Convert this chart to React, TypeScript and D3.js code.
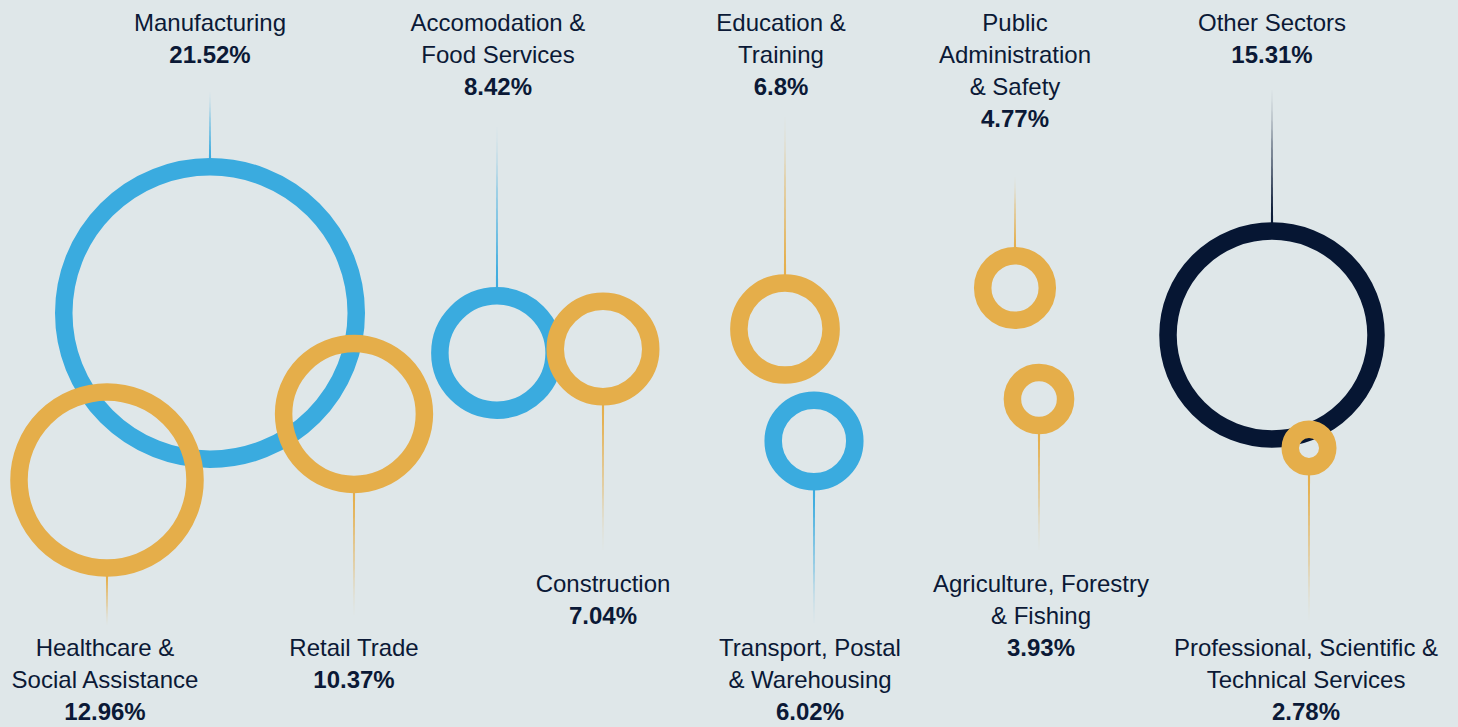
import React, { useEffect, useRef } from "react";
import * as d3 from "d3";

// share of employment by sector
const sectors = [
  "Manufacturing",
  "Healthcare & Social Assistance",
  "Retail Trade",
  "Accomodation & Food Services",
  "Construction",
  "Education & Training",
  "Transport, Postal & Warehousing",
  "Public Administration & Safety",
  "Agriculture, Forestry & Fishing",
  "Other Sectors",
  "Professional, Scientific & Technical Services",
];
const shares = [21.52, 12.96, 10.37, 8.42, 7.04, 6.8, 6.02, 4.77, 3.93, 15.31, 2.78];
const labelLines = [
  ["Manufacturing"],
  ["Healthcare &", "Social Assistance"],
  ["Retail Trade"],
  ["Accomodation &", "Food Services"],
  ["Construction"],
  ["Education &", "Training"],
  ["Transport, Postal", "& Warehousing"],
  ["Public", "Administration", "& Safety"],
  ["Agriculture, Forestry", "& Fishing"],
  ["Other Sectors"],
  ["Professional, Scientific &", "Technical Services"],
];
const groups = ["blue", "gold", "gold", "blue", "gold", "gold", "blue", "gold", "gold", "navy", "gold"];

// hand placed bubble layout (centre, label side, first baseline, leader tip)
const layout = [
  { cx: 210, cy: 313, side: "top", labelY: 31, tipY: 92, dx: 0 },
  { cx: 107, cy: 480, side: "bottom", labelY: 656, tipY: 625, dx: -2 },
  { cx: 354, cy: 414, side: "bottom", labelY: 656, tipY: 615, dx: 0 },
  { cx: 497, cy: 353, side: "top", labelY: 31, tipY: 127, dx: 1 },
  { cx: 603, cy: 349, side: "bottom", labelY: 592, tipY: 550, dx: 0 },
  { cx: 785, cy: 329, side: "top", labelY: 31, tipY: 117, dx: -4 },
  { cx: 814, cy: 441, side: "bottom", labelY: 656, tipY: 623, dx: -4 },
  { cx: 1015, cy: 288, side: "top", labelY: 31, tipY: 177, dx: 0 },
  { cx: 1039, cy: 399, side: "bottom", labelY: 592, tipY: 550, dx: 2 },
  { cx: 1272, cy: 335, side: "top", labelY: 31, tipY: 90, dx: 0 },
  { cx: 1309, cy: 448, side: "bottom", labelY: 656, tipY: 620, dx: -3 },
];

const W = 1458;
const H = 727;
const RING = 17.5;
const LINE_H = 32;
const textColor = "#0b1936";

export default function App() {
  const ref = useRef<SVGSVGElement>(null);

  useEffect(() => {
    document.body.style.margin = "0";
    const svg = d3.select(ref.current);
    svg.selectAll("*").remove();

    const color = d3.scaleOrdinal<string, string>()
      .domain(["blue", "gold", "navy"])
      .range(["#3aabdf", "#e5ae4a", "#061633"]);

    // outer radius grows linearly with the share
    const r = d3.scaleLinear().domain([0, 21.52]).range([8.6, 155]);

    const data = sectors.map((name, i) => ({
      name,
      value: shares[i],
      lines: labelLines[i],
      group: groups[i],
      ...layout[i],
    }));

    svg.append("rect").attr("width", W).attr("height", H).attr("fill", "#dfe7e9");

    const defs = svg.append("defs");

    // leader lines: tapered, fading towards the label
    const leaders = svg.append("g");
    data.forEach((d, i) => {
      const base = d.side === "top" ? d.cy - r(d.value) + 2 : d.cy + r(d.value) - 2;
      const grad = defs.append("linearGradient")
        .attr("id", "lg" + i)
        .attr("gradientUnits", "userSpaceOnUse")
        .attr("x1", 0).attr("x2", 0)
        .attr("y1", d.tipY).attr("y2", base);
      grad.append("stop").attr("offset", "0").attr("stop-color", color(d.group)).attr("stop-opacity", 0.05);
      grad.append("stop").attr("offset", "0.4").attr("stop-color", color(d.group)).attr("stop-opacity", 0.7);
      grad.append("stop").attr("offset", "1").attr("stop-color", color(d.group)).attr("stop-opacity", 1);

      const pts: [number, number][] = [
        [d.cx - 0.2, d.tipY],
        [d.cx + 0.2, d.tipY],
        [d.cx + 1.1, base],
        [d.cx - 1.1, base],
      ];
      leaders.append("path")
        .attr("d", d3.line()(pts) + "Z")
        .attr("fill", `url(#lg${i})`);
    });

    svg.append("g")
      .selectAll("circle")
      .data(data)
      .join("circle")
      .attr("cx", d => d.cx)
      .attr("cy", d => d.cy)
      .attr("r", d => r(d.value) - RING / 2)
      .attr("fill", "none")
      .attr("stroke", d => color(d.group))
      .attr("stroke-width", RING);

    const labels = svg.append("g")
      .attr("font-family", "'Liberation Sans', Arial, sans-serif")
      .attr("font-size", 24)
      .attr("fill", textColor)
      .attr("text-anchor", "middle");

    data.forEach(d => {
      const t = labels.append("text");
      d.lines.forEach((line, k) => {
        t.append("tspan")
          .attr("x", d.cx + d.dx)
          .attr("y", d.labelY + k * LINE_H)
          .text(line);
      });
      t.append("tspan")
        .attr("x", d.cx + d.dx)
        .attr("y", d.labelY + d.lines.length * LINE_H)
        .attr("font-weight", "bold")
        .text(d.value + "%");
    });
  }, []);

  return <svg ref={ref} width={W} height={H} style={{ display: "block" }}></svg>;
}
